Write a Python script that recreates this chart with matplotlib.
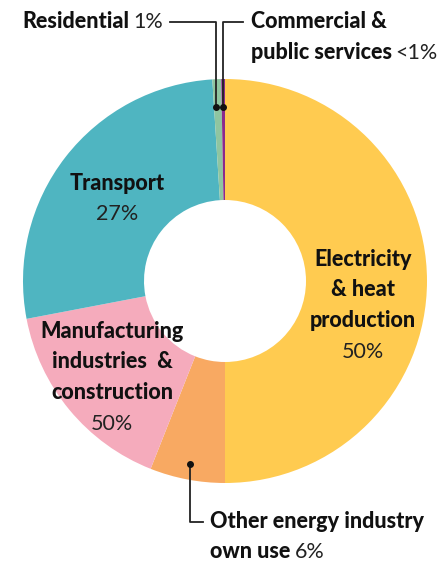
import matplotlib
matplotlib.use("Agg")
import matplotlib.pyplot as plt

# sectors, clockwise from the top
sectors = ["Electricity & heat production", "Other energy industry own use",
           "Manufacturing industries & construction", "Transport",
           "Residential", "Commercial & public services"]
shares = [50, 6, 16, 27, 0.7, 0.3]
colors = ["#FFCB50", "#F8A962", "#F5ABBC", "#4FB5C1", "#8FC5A0", "#8B2A8C"]

BOLD = dict(family="Lato", weight="black", fontsize=15.5, color="#111111")
LIGHT = dict(family="Lato", weight="normal", fontsize=15.5, color="#222222")

W, H = 441, 563
fig = plt.figure(figsize=(4.41, 5.63), dpi=100)
ax = fig.add_axes([0, 0, 1, 1])

# everything below is placed in pixel units, y measured from the top
def Y(y):
    return H - y

wedges, _ = ax.pie(shares, colors=colors, startangle=90, counterclock=False,
                   radius=202, center=(225, Y(281)),
                   wedgeprops=dict(width=121, linewidth=0))
ax.set_xlim(0, W)
ax.set_ylim(0, H)
ax.set_aspect("auto")
ax.axis("off")

renderer = fig.canvas.get_renderer()


def mixed(x, y, bold, light, gap=4):
    t = ax.text(x, Y(y), bold, ha="left", va="baseline", **BOLD)
    bb = t.get_window_extent(renderer).transformed(ax.transData.inverted())
    if light:
        ax.text(bb.x1 + gap, Y(y), light, ha="left", va="baseline", **LIGHT)


def centered(x, y0, lines, pct, step=30.5):
    for i, s in enumerate(lines):
        ax.text(x, Y(y0 + i * step), s, ha="center", va="baseline", **BOLD)
    ax.text(x, Y(y0 + len(lines) * step), pct, ha="center", va="baseline", **LIGHT)


# inside labels
centered(117, 190, ["Transport"], "27%")
centered(363, 266, ["Electricity", "& heat", "production"], "50%")
centered(112, 338, ["Manufacturing", "industries  &", "construction"], "50%")

# top callouts
mixed(22, 28, "Residential", "1%")
ax.text(251, Y(28), "Commercial &", ha="left", va="baseline", **BOLD)
mixed(251, 59, "public services", "<1%", gap=3)
lk = dict(color="#222222", lw=1.3)
ax.plot([170, 216, 216], [Y(22), Y(22), Y(107)], **lk)
ax.plot([243, 223, 223], [Y(22), Y(22), Y(107)], **lk)
ax.plot([216, 223], [Y(107), Y(107)], "o", color="#111111", ms=4)

# bottom callout
ax.plot([190, 190, 203], [Y(464), Y(522), Y(522)], **lk)
ax.plot([190], [Y(464)], "o", color="#111111", ms=4)
mixed(210, 528, "Other energy industry", "")
mixed(210, 558, "own use", "6%")

fig.savefig("out.png", dpi=100, facecolor="white")
